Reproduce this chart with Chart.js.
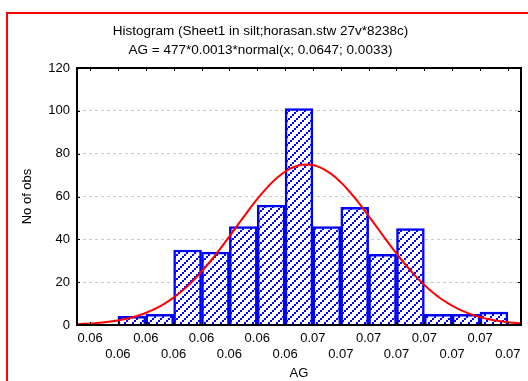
<!DOCTYPE html>
<html>
<head>
<meta charset="utf-8">
<script src="https://cdn.jsdelivr.net/npm/chart.js@4.4.0/dist/chart.umd.min.js"></script>
<style>
  body { margin: 0; background: #fff; }
</style>
</head>
<body>
<canvas id="myChart" width="528" height="381"></canvas>
<script>
// histogram counts (14 bins)
const counts = [4, 5, 35, 34, 46, 56, 101, 46, 55, 33, 45, 5, 5, 6];
// bin edges: first edge and width (AG units)
const firstEdge = 0.0546;
const binWidth = 0.0013;
// labels printed under each bin edge (Statistica rounds them to 2 decimals)
const xTickLabels = ['0.06', '0.06', '0.06', '0.06', '0.06', '0.06', '0.06', '0.06',
                     '0.07', '0.07', '0.07', '0.07', '0.07', '0.07', '0.07', '0.07'];
const yTicks = [0, 20, 40, 60, 80, 100, 120];
// fitted curve from the title: 477*0.0013*normal(x;0.0647;0.0033)
const nObs = 477, fitMean = 0.0647, fitSd = 0.0033;

const titleLines = ['Histogram (Sheet1 in silt;horasan.stw 27v*8238c)',
                    'AG = 477*0.0013*normal(x; 0.0647; 0.0033)'];

const edges = xTickLabels.map((_, k) => firstEdge + k * binWidth);
const xMin = firstEdge - 0.47 * binWidth;
const xMax = firstEdge + 15.47 * binWidth;

// bars sit between edge 1 and edge 15
const barData = counts.map((c, i) => ({ x: firstEdge + (i + 1.5) * binWidth, y: c }));

const curveData = [];
for (let i = 0; i <= 120; i++) {
  const x = xMin + (xMax - xMin) * i / 120;
  const z = (x - fitMean) / fitSd;
  curveData.push({ x: x, y: nObs * binWidth * Math.exp(-0.5 * z * z) / (fitSd * Math.sqrt(2 * Math.PI)) });
}

const canvas = document.getElementById('myChart');
const ctx = canvas.getContext('2d');

// blue diagonal hatch like the original fill
function hatch() {
  const c = document.createElement('canvas');
  c.width = 8; c.height = 8;
  const g = c.getContext('2d');
  g.fillStyle = '#fff';
  g.fillRect(0, 0, 8, 8);
  g.fillStyle = '#0000ff';
  [[6, 0], [4, 2], [2, 4], [0, 6]].forEach(p => g.fillRect(p[0], p[1], 2, 2));
  return ctx.createPattern(c, 'repeat');
}

const framePlugin = {
  id: 'frame',
  beforeDraw(chart) {
    const c = chart.ctx;
    c.save();
    c.strokeStyle = '#ff0000';
    c.lineWidth = 2;
    c.strokeRect(7, 13, 800, 800);
    c.restore();
  },
  afterDatasetsDraw(chart) {
    const c = chart.ctx;
    const a = chart.chartArea;
    const xs = chart.scales.x, ys = chart.scales.y;
    c.save();
    c.strokeStyle = '#000';
    c.lineWidth = 1;
    c.beginPath();
    edges.forEach(v => {
      const px = Math.round(xs.getPixelForValue(v)) + 0.5;
      c.moveTo(px, a.top); c.lineTo(px, a.top + 3);
      c.moveTo(px, a.bottom); c.lineTo(px, a.bottom - 3);
    });
    yTicks.forEach(v => {
      const py = Math.round(ys.getPixelForValue(v)) + 0.5;
      c.moveTo(a.left, py); c.lineTo(a.left + 3, py);
      c.moveTo(a.right, py); c.lineTo(a.right - 3, py);
    });
    c.stroke();
    c.lineWidth = 2;
    c.strokeRect(a.left, a.top, a.right - a.left, a.bottom - a.top);
    c.restore();
  }
};

const myChart = new Chart(ctx, {
  data: {
    datasets: [{
      type: 'line',
      data: curveData,
      borderColor: '#ff0000',
      borderWidth: 2,
      pointRadius: 0,
      fill: false,
      order: 0
    }, {
      type: 'bar',
      data: barData,
      backgroundColor: hatch(),
      borderColor: '#0000ff',
      borderWidth: 2.5,
      barPercentage: 1,
      categoryPercentage: 1,
      order: 1
    }]
  },
  options: {
    responsive: false,
    animation: false,
    layout: { padding: { left: 0, right: 7, top: 0, bottom: 0 } },
    plugins: {
      legend: { display: false },
      tooltip: { enabled: false },
      title: {
        display: true,
        text: titleLines,
        color: '#000',
        font: { family: 'Liberation Sans, Arial', size: 13.5, weight: 'normal', lineHeight: '19px' },
        padding: { top: 22, bottom: 8 }
      }
    },
    scales: {
      x: {
        type: 'linear',
        offset: false,
        min: xMin,
        max: xMax,
        afterBuildTicks: s => { s.ticks = edges.map(v => ({ value: v })); },
        afterFit: s => { s.height = 56; },
        grid: { display: false, drawTicks: false, offset: false },
        border: { display: false },
        ticks: {
          color: '#000',
          font: { family: 'Liberation Sans, Arial', size: 13 },
          padding: 6,
          maxRotation: 0,
          autoSkip: false,
          callback: (v, i) => i % 2 === 0 ? [xTickLabels[i], ''] : ['', xTickLabels[i]]
        },
        title: {
          display: true,
          text: 'AG',
          color: '#000',
          font: { family: 'Liberation Sans, Arial', size: 13 },
          padding: { top: 5, bottom: 0 }
        }
      },
      y: {
        min: 0,
        max: 120,
        afterBuildTicks: s => { s.ticks = yTicks.map(v => ({ value: v })); },
        afterFit: s => { s.width = 77; },
        grid: { color: '#c8c8c8', drawTicks: false, tickBorderDash: [3, 3] },
        border: { display: false, dash: [3, 3] },
        ticks: {
          color: '#000',
          font: { family: 'Liberation Sans, Arial', size: 13 },
          padding: 7
        },
        title: {
          display: true,
          text: 'No of obs',
          color: '#000',
          font: { family: 'Liberation Sans, Arial', size: 13 },
          padding: { top: 20, bottom: 0 }
        }
      }
    }
  },
  plugins: [framePlugin]
});
</script>
</body>
</html>
